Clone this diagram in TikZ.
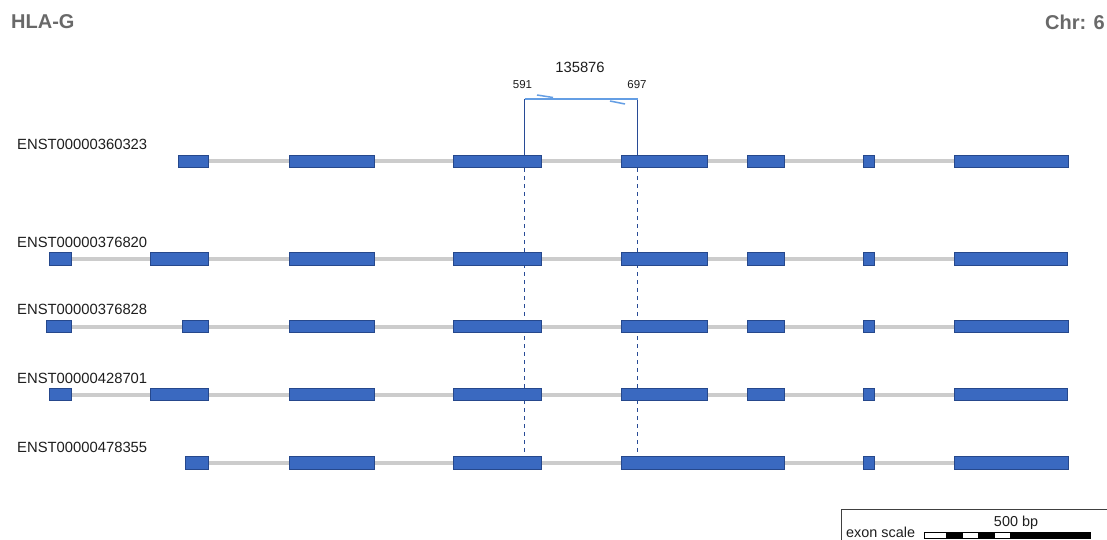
\documentclass[tikz,border=0pt]{standalone}
\usepackage{fontspec}
\setmainfont{Liberation Sans}

\definecolor{exonfill}{RGB}{58,105,192}
\definecolor{exonline}{RGB}{38,72,140}
\definecolor{introngrey}{RGB}{204,204,204}
\definecolor{primerblue}{RGB}{100,158,228}
\definecolor{guideblue}{RGB}{40,75,150}
\definecolor{titlegrey}{RGB}{105,105,105}
\definecolor{textdark}{RGB}{30,30,30}

\tikzset{
  exon/.style={fill=exonfill, draw=exonline, line width=0.9pt},
  intron/.style={draw=introngrey, line width=4pt},
  rowlabel/.style={anchor=base west, inner sep=0pt, text=textdark,
                   font=\fontsize{14.8}{16}\selectfont},
  heading/.style={inner sep=0pt, text=titlegrey,
                  font=\fontsize{20}{22}\selectfont\bfseries},
  primer/.style={draw=primerblue, line width=2.6pt},
  barb/.style={draw=primerblue, line width=1.5pt},
  pairline/.style={draw=guideblue, line width=1.1pt},
  guide/.style={draw=guideblue, line width=1.1pt, dash pattern=on 4pt off 4pt},
  smalltext/.style={inner sep=0pt, text=textdark, font=\fontsize{11.5}{12}\selectfont},
  sizetext/.style={inner sep=0pt, text=textdark, font=\fontsize{14.8}{16}\selectfont},
  scaletext/.style={inner sep=0pt, text=textdark, font=\fontsize{14.4}{16}\selectfont},
}

\begin{document}
\begin{tikzpicture}[x=1pt,y=-1pt]
\useasboundingbox (0,0) rectangle (1107,540);
\fill[white] (0,0) rectangle (1107,540);

% headings
\node[heading, anchor=west] (gene) at (11,22) {HLA-G};
\node[heading, anchor=east] (chrom) at (1105,22) {Chr: 6};

% primer pair
\coordinate (fwd) at (524.5,99);
\coordinate (rev) at (637.5,99);
\coordinate (fwdtop) at (524.5,155.5);
\coordinate (revtop) at (637.5,155.5);
\coordinate (fwdlow) at (524.5,168);
\coordinate (revlow) at (637.5,168);
\coordinate (fwdend) at (524.5,456);
\coordinate (revend) at (637.5,456);

\draw[guide] (fwdlow) -- (fwdend);
\draw[guide] (revlow) -- (revend);
\draw[pairline] (fwd) -- (fwdtop);
\draw[pairline] (rev) -- (revtop);
\draw[primer] (fwd) -- (rev);
\coordinate (fb1) at (537,95);
\coordinate (fb2) at (553,97.5);
\coordinate (rb1) at (610,101);
\coordinate (rb2) at (625,104);
\draw[barb] (fb1) -- (fb2);
\draw[barb] (rb1) -- (rb2);

\node[sizetext] (amplicon) at (580,67.5) {135876};
\node[smalltext] (p591) at (522.5,85) {591};
\node[smalltext] (p697) at (637,85) {697};

% transcript ENST00000360323
\node[rowlabel] (t1) at (17,149.5) {ENST00000360323};
\draw[intron] (178,161.5) -- (1068,161.5);
\foreach \a/\b in {178/208,289/374,453/541,621/707,747/784,863/874,954/1068}
  \draw[exon] (\a,155.3) rectangle (\b,167.7);

% transcript ENST00000376820
\node[rowlabel] (t2) at (17,247) {ENST00000376820};
\draw[intron] (49,259) -- (1067,259);
\foreach \a/\b in {49/71,150/208,289/374,453/541,621/707,747/784,863/874,954/1067}
  \draw[exon] (\a,252.8) rectangle (\b,265.2);

% transcript ENST00000376828
\node[rowlabel] (t3) at (17,314.5) {ENST00000376828};
\draw[intron] (46,326.7) -- (1068,326.7);
\foreach \a/\b in {46/71,182/208,289/374,453/541,621/707,747/784,863/874,954/1068}
  \draw[exon] (\a,320.5) rectangle (\b,332.9);

% transcript ENST00000428701
\node[rowlabel] (t4) at (17,383) {ENST00000428701};
\draw[intron] (49,394.5) -- (1067,394.5);
\foreach \a/\b in {49/71,150/208,289/374,453/541,621/707,747/784,863/874,954/1067}
  \draw[exon] (\a,388.3) rectangle (\b,400.7);

% transcript ENST00000478355
\node[rowlabel] (t5) at (17,452) {ENST00000478355};
\draw[intron] (185,463) -- (1068,463);
\foreach \a/\b in {185/208,289/374,453/541,621/784,863/874,954/1068}
  \draw[exon] (\a,456.8) rectangle (\b,469.2);

% exon scale box
\draw[draw=black!75, line width=1pt] (841.5,509.5) rectangle (1120,560);
\node[scaletext, anchor=base] (bp) at (1016,526.5) {500 bp};
\node[scaletext, anchor=base west] (scalelbl) at (846,537.5) {exon scale};
\draw[black, line width=0.8pt, fill=white] (924,532) rectangle (1090,538);
\fill[black] (946,532) rectangle (963,538);
\fill[black] (978,532) rectangle (995,538);
\fill[black] (1010,532) rectangle (1090,538);
\end{tikzpicture}
\end{document}
